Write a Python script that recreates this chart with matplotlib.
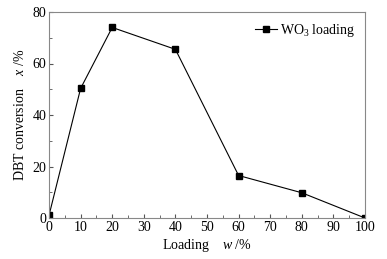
import matplotlib
matplotlib.use("Agg")
import matplotlib.pyplot as plt
from matplotlib.ticker import MultipleLocator

loading = [0, 10, 20, 40, 60, 80, 100]
conversion = [1.0, 50.3, 74.0, 65.5, 16.5, 9.8, 0.0]

plt.rcParams['font.family'] = ['Liberation Serif', 'DejaVu Serif']
plt.rcParams['mathtext.fontset'] = 'custom'
plt.rcParams['mathtext.rm'] = 'Liberation Serif'
plt.rcParams['mathtext.it'] = 'Liberation Serif:italic'

fig = plt.figure(figsize=(3.87, 2.59), dpi=100)
ax = fig.add_axes([49/387, 1-218/259, (365-49)/387, (218-12)/259])
ax.plot(loading, conversion, color='black', lw=0.8, marker='s', ms=4.5,
        label=r'WO$_3$ loading')
ax.set_xlim(0, 100)
ax.set_ylim(0, 80)
ax.xaxis.set_major_locator(MultipleLocator(10))
ax.xaxis.set_minor_locator(MultipleLocator(5))
ax.yaxis.set_major_locator(MultipleLocator(20))
ax.yaxis.set_minor_locator(MultipleLocator(10))
ax.tick_params(which='both', direction='in', labelsize=10, color='#555555', pad=2)
ax.tick_params(which='major', length=3)
ax.tick_params(which='minor', length=2)
for s in ax.spines.values():
    s.set_color('#888888')
    s.set_linewidth(0.8)
ax.set_xlabel(r'Loading    $w$ /%', fontsize=10, labelpad=2)
ax.set_ylabel(r'DBT conversion    $x$ /%', fontsize=10, labelpad=4)
leg = ax.legend(loc='upper right', frameon=False, fontsize=10, handlelength=1.6,
                handletextpad=0.2, borderaxespad=0.3)
fig.savefig('out.png', dpi=100)
